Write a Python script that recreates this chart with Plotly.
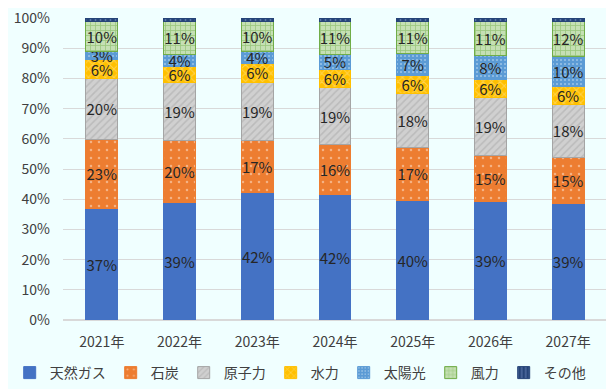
import plotly.graph_objects as go

# 電源構成の比率（%）
years = ["2021年", "2022年", "2023年", "2024年", "2025年", "2026年", "2027年"]
gas = [37.0, 38.9, 42.3, 41.7, 39.7, 39.1, 38.6]
coal = [22.9, 20.4, 17.3, 16.3, 17.3, 15.4, 15.2]
nuclear = [20.2, 19.2, 19.2, 19.0, 18.0, 19.3, 17.6]
hydro = [6.0, 5.5, 6.0, 6.0, 6.0, 6.0, 6.0]
solar = [2.9, 4.0, 4.2, 5.0, 7.2, 7.8, 9.8]
wind = [10.0, 11.0, 10.0, 11.0, 10.8, 11.4, 11.8]
other = [1.0, 1.0, 1.0, 1.0, 1.0, 1.0, 1.0]

labels = ["天然ガス", "石炭", "原子力", "水力", "太陽光", "風力", "その他"]

# (values, bar colour, pattern shape, pattern colour, border colour, pattern size, solidity, show text)
series = [
    (gas, "#4472C4", "", "#4472C4", "#4472C4", 5, 0.3, True),
    (coal, "#ED7D31", ".", "#FBE5D6", "#ED7D31", 8, 0.08, True),
    (nuclear, "#D0D0D0", "/", "#A5A5A5", "#A5A5A5", 5, 0.3, True),
    (hydro, "#FFC000", "x", "#FFE699", "#FFC000", 6, 0.3, True),
    (solar, "#5B9BD5", ".", "#DDEBF7", "#5B9BD5", 4, 0.2, True),
    (wind, "#C5E0B4", "+", "#70AD47", "#70AD47", 5, 0.3, True),
    (other, "#264478", "|", "#8EA9DB", "#264478", 5, 0.3, False),
]

fig = go.Figure()
for name, (vals, col, shape, fg, line, psize, solid, show) in zip(labels, series):
    fig.add_trace(go.Bar(
        x=years, y=vals, name=name,
        marker=dict(color=col, line=dict(color=line, width=1),
                    pattern=dict(shape=shape, fgcolor=fg, size=psize, solidity=solid)),
        text=[f"{round(v)}%" for v in vals] if show else None,
        textposition="inside" if show else "none",
        insidetextanchor="middle",
        textangle=0,
        textfont=dict(size=15, color="#262626", family="Noto Sans CJK JP"),
        hoverinfo="skip",
    ))

# the page body has an 8px margin, so the figure is a little smaller than the window
fig.update_layout(
    barmode="stack",
    bargap=0.59,
    width=606, height=381,
    margin=dict(l=55, r=7, t=10, b=69, autoexpand=False),
    paper_bgcolor="#F0FFFF",
    plot_bgcolor="#F0FFFF",
    font=dict(family="Noto Sans CJK JP", size=14, color="#404040"),
    uniformtext=dict(mode="show", minsize=15),
    legend=dict(orientation="h", x=-0.098, xanchor="left", y=-0.1225, yanchor="top",
                font=dict(size=14, color="#404040"), itemwidth=30,
                traceorder="normal", bgcolor="rgba(0,0,0,0)"),
    showlegend=True,
)
fig.update_yaxes(range=[0, 100], dtick=10, ticksuffix="%", showgrid=True,
                 gridcolor="#D9D9D9", zeroline=True, zerolinecolor="#D9D9D9",
                 ticks="", ticklabelstandoff=12, tickfont=dict(size=14),
                 ticklabeloverflow="allow", automargin=False, fixedrange=True)
fig.update_xaxes(showgrid=False, tickfont=dict(size=14), ticks="", showline=False,
                 ticklabelstandoff=12, automargin=False)

fig.write_html("out.html")
